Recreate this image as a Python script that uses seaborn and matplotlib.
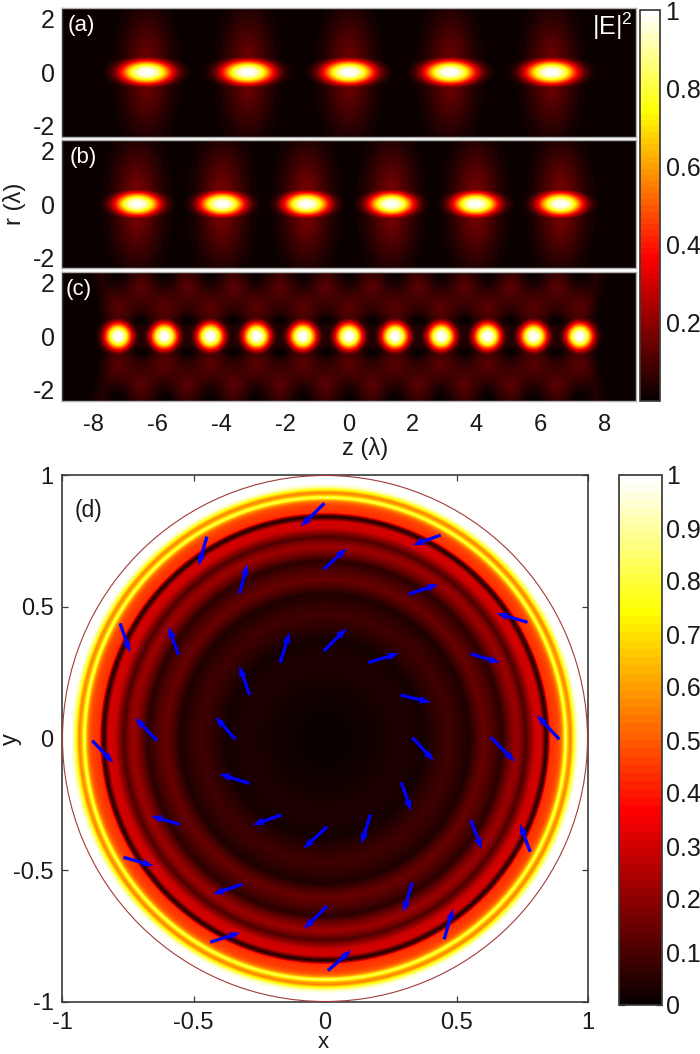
import numpy as np
import matplotlib
matplotlib.use("Agg")
import matplotlib.pyplot as plt
import seaborn as sns
from matplotlib.cm import ScalarMappable
from matplotlib.colors import Normalize
from matplotlib.patches import Circle

# ---------- values ----------
peaks_a = [-6.36, -3.18, 0.0, 3.18, 6.36]
peaks_b = [-6.65, -3.98, -1.33, 1.33, 3.98, 6.65]
peaks_c = [-7.25, -5.8, -4.35, -2.9, -1.45, 0.0, 1.45, 2.9, 4.35, 5.8, 7.25]
spot_a = (0.80, 0.44)
spot_b = (0.70, 0.44)
spot_c = (0.42, 0.50)
lobe_amp_a = 0.10
lobe_amp_b = 0.11
lobe_amp_c = 0.07
mid_amp_c = 0.07
base_c = 0.045

ring_r = [0, .1, .16, .28, .33, .375, .42, .47, .5, .55, .58, .605, .64, .675, .705, .73,
          .75, .765, .785, .80, .825, .836, .843, .85, .858, .885, .897, .906, .916, .927, .936, .945, .957, .97, 1.0]
ring_i = [0, .004, .01, .03, .026, .016, .05, .08, .065, .03, .1, .14, .1, .05, .16, .22,
          .17, .1, .2, .29, .3, .12, .03, .14, .43, .46, .5, .6, .85, .62, .56, .72, .92, 1.0, 1.0]

arrow_x0 = [-.002, -.449, -.325, -.005, -.779, -.557, -.170, -.005, -.286, -.639, -.341, -.885,
            .440, .319, .770, .165, .554, .288, .891, .332, .630, .290, .173, .554, .780, .332,
            .453, .011, -.288, -.166, .008, -.553, -.315, .008, -.766, -.436]
arrow_y0 = [.893, .766, .551, .642, .437, .317, .288, .332, .165, -.008, -.003, -.008,
            .772, .548, .441, .288, .321, .165, -.003, .004, .005, -.166, -.288, -.309, -.430, -.546,
            -.762, -.881, -.170, -.290, -.335, -.326, -.553, -.636, -.451, -.773]
arrow_x1 = [-.093, -.481, -.294, .082, -.741, -.595, -.135, .082, -.326, -.722, -.417, -.805,
            .334, .431, .653, .281, .666, .402, .805, .414, .722, .328, .138, .596, .741, .298,
            .487, .100, -.402, -.275, -.083, -.661, -.426, -.081, -.652, -.322]
arrow_y1 = [.804, .655, .662, .722, .326, .424, .403, .418, .275, .079, .083, -.092,
            .734, .585, .475, .323, .288, .137, .089, -.085, -.088, -.275, -.400, -.420, -.324, -.660,
            -.646, -.803, -.135, -.328, -.418, -.294, -.591, -.723, -.483, -.737]

r_ticks = [-2, 0, 2]
z_ticks = [-8, -6, -4, -2, 0, 2, 4, 6, 8]
d_ticks = [-1, -0.5, 0, 0.5, 1]
d_tick_labels = ["-1", "-0.5", "0", "0.5", "1"]
top_cbar_ticks = [0.2, 0.4, 0.6, 0.8, 1.0]
top_cbar_labels = ["0.2", "0.4", "0.6", "0.8", "1"]
bot_cbar_ticks = [0, .1, .2, .3, .4, .5, .6, .7, .8, .9, 1]
bot_cbar_labels = ["0", "0.1", "0.2", "0.3", "0.4", "0.5", "0.6", "0.7", "0.8", "0.9", "1"]

# ---------- style ----------
sns.set_theme(style="white")
plt.rcParams["font.family"] = ["Liberation Sans", "DejaVu Sans"]
plt.rcParams["mathtext.fontset"] = "custom"
plt.rcParams["mathtext.rm"] = "Liberation Sans"
W, H = 700, 1054
FS = 17
EDGE = "#3a3a3a"
INK = "#1a1a1a"
cmap = plt.get_cmap("hot", 64)
cmap_smooth = plt.get_cmap("hot", 256)
fig = plt.figure(figsize=(W / 100, H / 100), dpi=100, facecolor="white")


def axes_px(x0, y0, x1, y1):
    return fig.add_axes([x0 / W, 1 - y1 / H, (x1 - x0) / W, (y1 - y0) / H])


ZMAX, RMAX = 9.0, 2.4
nz, nr = 574, 258
z = np.linspace(-ZMAX, ZMAX, nz)
r = np.linspace(RMAX, -RMAX, nr)
Z, R = np.meshgrid(z, r)


def spot(z0, r0, wz, wr, p=2.6):
    return np.exp(-(((Z - z0) / wz) ** 2 + ((R - r0) / wr) ** 2) ** (p / 2))


def soft(z0, r0, sz, sr):
    return np.exp(-((Z - z0) ** 2) / (2 * sz ** 2) - (R - r0) ** 2 / (2 * sr ** 2))


def field_focus(peaks, w, amp, sz):
    f = np.zeros_like(Z)
    for p in peaks:
        f = np.maximum(f, spot(p, 0, *w))
        glow = amp * (soft(p, 0.85, sz, 1.1) + soft(p, -0.85, sz, 1.1))
        f = np.maximum(f, glow)
    return f


def field_c():
    f = base_c * np.clip((7.9 - np.abs(Z) + 0.3 * (np.abs(R) - 1)) / 0.5, 0, 1)
    for p in peaks_c:
        f = f + lobe_amp_c * (soft(p, 1.05, .32, .42) + soft(p, -1.05, .32, .42))
        f = f * (1 - 0.9 * soft(p, 2.3, .3, .3)) * (1 - 0.9 * soft(p, -2.3, .3, .3))
    for a, b in zip(peaks_c[:-1], peaks_c[1:]):
        m = (a + b) / 2
        f = f + mid_amp_c * (soft(m, 1.85, .28, .4) + soft(m, -1.85, .28, .4))
    for p in peaks_c:
        f = np.maximum(f, spot(p, 0, *spot_c))
    for a, b in zip(peaks_c[:-1], peaks_c[1:]):
        m = (a + b) / 2
        f = f * (1 - 0.97 * soft(m, .6, .2, .16)) * (1 - 0.97 * soft(m, -.6, .2, .16))
    return f


fields = [field_focus(peaks_a, spot_a, lobe_amp_a, .5),
          field_focus(peaks_b, spot_b, lobe_amp_b, .5),
          field_c()]
boxes = [(62, 8, 636, 136.5), (62, 140, 636, 268), (62, 272, 636, 400.5)]
tags = [("(a)", 81, 26), ("(b)", 83, 158), ("(c)", 79, 290)]

for i, (fld, box, tag) in enumerate(zip(fields, boxes, tags)):
    ax = axes_px(*box)
    sns.heatmap(fld, ax=ax, cmap=cmap, vmin=0, vmax=1, cbar=False,
                xticklabels=False, yticklabels=False, rasterized=True)
    for s in ax.spines.values():
        s.set_visible(True)
        s.set_color(EDGE)
        s.set_linewidth(1)
    ax.spines["top"].set_color("#b0b0b0")
    ax.spines["right"].set_color("#b0b0b0")
    ax.spines["bottom"].set_color("#b0b0b0")
    ax.set_yticks([(RMAX - t) / (2 * RMAX) * nr for t in r_ticks])
    ax.set_yticklabels([str(t) for t in r_ticks], fontsize=FS + 1)
    ax.set_xticks([(t + ZMAX) / (2 * ZMAX) * nz for t in z_ticks])
    ax.set_xticklabels([str(t) for t in z_ticks] if i == 2 else [], fontsize=FS)
    ax.tick_params(axis="both", direction="in", length=3, width=.8, color="black",
                   pad=5, labelcolor=INK, bottom=True, left=True)
    if i == 2:
        ax.tick_params(axis="x", pad=10)
    fig.text(tag[1] / W, 1 - tag[2] / H, tag[0], color="white", fontsize=16,
             ha="center", va="center")

fig.text(612 / W, 1 - 26 / H, r"|E|$^{2}$", color="white", fontsize=18, ha="center", va="center")
fig.text(14 / W, 1 - 204 / H, "r (λ)", rotation=90, fontsize=FS, color=INK, ha="center", va="center")
fig.text(365 / W, 1 - 448 / H, "z (λ)", fontsize=FS, color=INK, ha="center", va="center")

norm = Normalize(0, 1)
cax1 = axes_px(640, 10, 660, 401)
cb1 = fig.colorbar(ScalarMappable(norm=norm, cmap=cmap), cax=cax1)
cb1.set_ticks(top_cbar_ticks, labels=top_cbar_labels, fontsize=FS + 1)
cax1.tick_params(direction="in", length=3, width=.8, left=True, right=True, color="black", pad=4,
                 labelcolor=INK)
cb1.outline.set_edgecolor(EDGE)

# ---------- panel (d) ----------
n = 526
axis = np.linspace(-1, 1, n)
XX, YY = np.meshgrid(axis, axis[::-1])
rho = np.hypot(XX, YY)
disc = np.interp(rho, ring_r, ring_i)
axd = axes_px(62, 475, 588, 1002)
sns.heatmap(disc, ax=axd, mask=rho > 1.0, cmap=cmap_smooth, vmin=0, vmax=1, cbar=False,
            xticklabels=False, yticklabels=False, rasterized=True)
for s in axd.spines.values():
    s.set_visible(True)
    s.set_color(EDGE)
    s.set_linewidth(1.2)
axd.set_zorder(2)
axd.add_patch(Circle((n / 2, n / 2), n / 2 - 0.5, fill=False, edgecolor="#a23a3a", linewidth=0.8, zorder=4))


def to_ix(v):
    return (np.asarray(v) + 1) / 2 * n


def to_iy(v):
    return (1 - np.asarray(v)) / 2 * n


tx, ty = to_ix(arrow_x0), to_iy(arrow_y0)
hx, hy = to_ix(arrow_x1), to_iy(arrow_y1)
axd.quiver(tx, ty, hx - tx, hy - ty, angles="xy", scale_units="xy", scale=1, color="#0000ff",
           width=0.0062, headwidth=2.5, headlength=3.6, headaxislength=3.1, zorder=5)
axd.set_xticks(to_ix(d_ticks))
axd.set_xticklabels(d_tick_labels, fontsize=FS)
axd.set_yticks(to_iy(d_ticks))
axd.set_yticklabels(d_tick_labels, fontsize=FS)
axd.tick_params(axis="both", direction="in", length=4, width=.9, color=EDGE, labelcolor=INK,
                bottom=True, left=True, top=True, right=True, pad=6)
axd.tick_params(axis="x", pad=7)
fig.text(89 / W, 1 - 510 / H, "(d)", color=INK, fontsize=16.5, ha="center", va="center")
fig.text(323 / W, 1 - 1042 / H, "x", fontsize=FS - 1, color=INK, ha="center", va="center")
fig.text(11 / W, 1 - 739 / H, "y", rotation=90, fontsize=FS, color=INK, ha="center", va="center")

cax2 = axes_px(619, 475, 662, 1005)
cb2 = fig.colorbar(ScalarMappable(norm=norm, cmap=cmap), cax=cax2)
cb2.set_ticks(bot_cbar_ticks, labels=bot_cbar_labels, fontsize=FS + 1)
cax2.tick_params(direction="in", length=4, width=.9, left=True, right=True, color="black", pad=3,
                 labelcolor=INK)
cb2.outline.set_edgecolor(EDGE)

fig.savefig("out.png", dpi=100, facecolor="white")
